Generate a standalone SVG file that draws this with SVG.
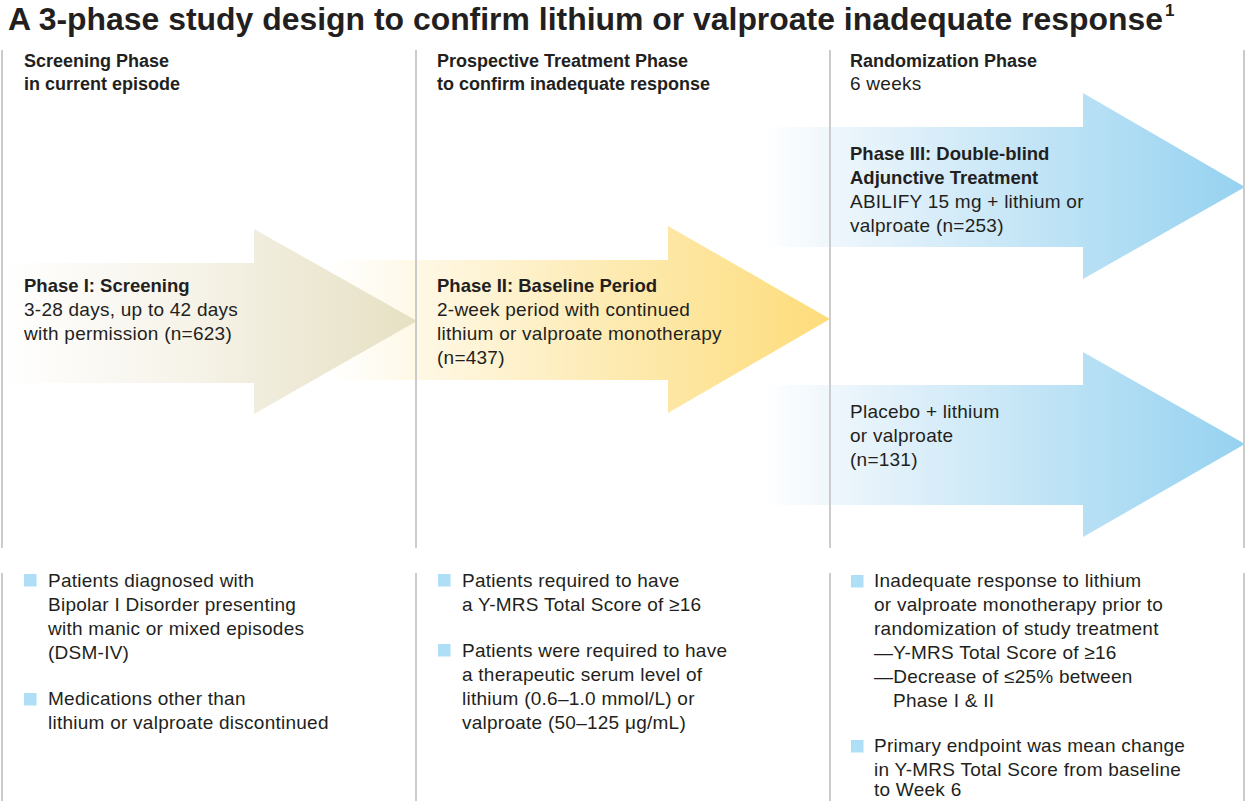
<svg xmlns="http://www.w3.org/2000/svg" width="1246" height="801" viewBox="0 0 1246 801">
<defs>
<linearGradient id="gBeige" gradientUnits="userSpaceOnUse" x1="0" y1="0" x2="416" y2="0">
<stop offset="0" stop-color="#ffffff"/>
<stop offset="0.45" stop-color="#f6f3e9"/>
<stop offset="1" stop-color="#e6e0c3"/>
</linearGradient>
<linearGradient id="gYellow" gradientUnits="userSpaceOnUse" x1="330" y1="0" x2="830" y2="0">
<stop offset="0" stop-color="#ffffff"/>
<stop offset="0.2" stop-color="#fef7e2"/>
<stop offset="1" stop-color="#fddc7a"/>
</linearGradient>
<linearGradient id="gBlue" gradientUnits="userSpaceOnUse" x1="760" y1="0" x2="1245" y2="0">
<stop offset="0" stop-color="#ffffff"/>
<stop offset="0.2" stop-color="#e9f4fb"/>
<stop offset="1" stop-color="#95d2f0"/>
</linearGradient>
</defs>
<style>
text{font-family:"Liberation Sans",Arial,sans-serif;fill:#231f20}
.title{font-size:32px;font-weight:bold}
.sup{font-size:17px;font-weight:bold}
.hd{font-size:18px;font-weight:bold}
.hr{font-size:19px;letter-spacing:0.25px}
.bt{font-size:18.5px;font-weight:bold}
.tx{font-size:19px;letter-spacing:0.25px}
.div{stroke:#cbcbcb;stroke-width:2;fill:none}
.bul{fill:#aedff7}
</style>
<rect width="1246" height="801" fill="#ffffff"/>
<g id="title">
<text class="title" x="8" y="30" textLength="1155" lengthAdjust="spacingAndGlyphs">A 3-phase study design to confirm lithium or valproate inadequate response</text>
<text class="sup" x="1165" y="16">1</text>
</g>
<g id="phase2-arrow">
<polygon points="330,260 668,260 668,226 830,319 668,413 668,380 330,380" fill="url(#gYellow)"/>
<text class="bt" x="437" y="292">Phase II: Baseline Period</text>
<text class="tx" x="437" y="316">2-week period with continued</text>
<text class="tx" x="437" y="340">lithium or valproate monotherapy</text>
<text class="tx" x="437" y="364">(n=437)</text>
</g>
<g id="phase1-arrow">
<polygon points="2,263 254,263 254,229 417,321 254,414 254,383 2,383" fill="url(#gBeige)"/>
<text class="bt" x="24" y="292">Phase I: Screening</text>
<text class="tx" x="24" y="316">3-28 days, up to 42 days</text>
<text class="tx" x="24" y="340">with permission (n=623)</text>
</g>
<g id="phase3-arrow">
<polygon points="760,127 1083,127 1083,93 1245,187 1083,279 1083,247 760,247" fill="url(#gBlue)"/>
<text class="bt" x="850" y="160">Phase III: Double-blind</text>
<text class="bt" x="850" y="184">Adjunctive Treatment</text>
<text class="tx" x="850" y="208">ABILIFY 15 mg + lithium or</text>
<text class="tx" x="850" y="232">valproate (n=253)</text>
</g>
<g id="placebo-arrow">
<polygon points="760,385 1083,385 1083,352 1245,444 1083,537 1083,505 760,505" fill="url(#gBlue)"/>
<text class="tx" x="850" y="418">Placebo + lithium</text>
<text class="tx" x="850" y="442">or valproate</text>
<text class="tx" x="850" y="466">(n=131)</text>
</g>
<g id="dividers">
<line class="div" x1="2" y1="50" x2="2" y2="548"/>
<line class="div" x1="416" y1="50" x2="416" y2="548"/>
<line class="div" x1="830" y1="50" x2="830" y2="548"/>
<line class="div" x1="1244" y1="50" x2="1244" y2="548"/>
<line class="div" x1="2" y1="573" x2="2" y2="801"/>
<line class="div" x1="416" y1="573" x2="416" y2="801"/>
<line class="div" x1="830" y1="573" x2="830" y2="801"/>
<line class="div" x1="1244" y1="573" x2="1244" y2="801"/>
</g>
<g id="header-screening">
<text class="hd" x="24" y="67">Screening Phase</text>
<text class="hd" x="24" y="90">in current episode</text>
</g>
<g id="header-prospective">
<text class="hd" x="437" y="67">Prospective Treatment Phase</text>
<text class="hd" x="437" y="90">to confirm inadequate response</text>
</g>
<g id="header-randomization">
<text class="hd" x="850" y="67">Randomization Phase</text>
<text class="hr" x="850" y="90">6 weeks</text>
</g>
<g id="notes-screening">
<rect class="bul" x="24" y="574" width="12.5" height="12.5"/>
<text class="tx" x="48" y="587">Patients diagnosed with</text>
<text class="tx" x="48" y="611">Bipolar I Disorder presenting</text>
<text class="tx" x="48" y="635">with manic or mixed episodes</text>
<text class="tx" x="48" y="659">(DSM-IV)</text>
<rect class="bul" x="24" y="693" width="12.5" height="12.5"/>
<text class="tx" x="48" y="705">Medications other than</text>
<text class="tx" x="48" y="729">lithium or valproate discontinued</text>
</g>
<g id="notes-prospective">
<rect class="bul" x="438" y="574" width="12.5" height="12.5"/>
<text class="tx" x="462" y="587">Patients required to have</text>
<text class="tx" x="462" y="611">a Y-MRS Total Score of ≥16</text>
<rect class="bul" x="438" y="644" width="12.5" height="12.5"/>
<text class="tx" x="462" y="657">Patients were required to have</text>
<text class="tx" x="462" y="681">a therapeutic serum level of</text>
<text class="tx" x="462" y="705">lithium (0.6–1.0 mmol/L) or</text>
<text class="tx" x="462" y="729">valproate (50–125 μg/mL)</text>
</g>
<g id="notes-randomization">
<rect class="bul" x="851" y="575" width="12.5" height="12.5"/>
<text class="tx" x="874" y="587">Inadequate response to lithium</text>
<text class="tx" x="874" y="611">or valproate monotherapy prior to</text>
<text class="tx" x="874" y="635">randomization of study treatment</text>
<text class="tx" x="874" y="659">—Y-MRS Total Score of ≥16</text>
<text class="tx" x="874" y="683">—Decrease of ≤25% between</text>
<text class="tx" x="893" y="707">Phase I &amp; II</text>
<rect class="bul" x="851" y="740" width="12.5" height="12.5"/>
<text class="tx" x="874" y="752">Primary endpoint was mean change</text>
<text class="tx" x="874" y="776">in Y-MRS Total Score from baseline</text>
<text class="tx" x="874" y="796">to Week 6</text>
</g>
</svg>
